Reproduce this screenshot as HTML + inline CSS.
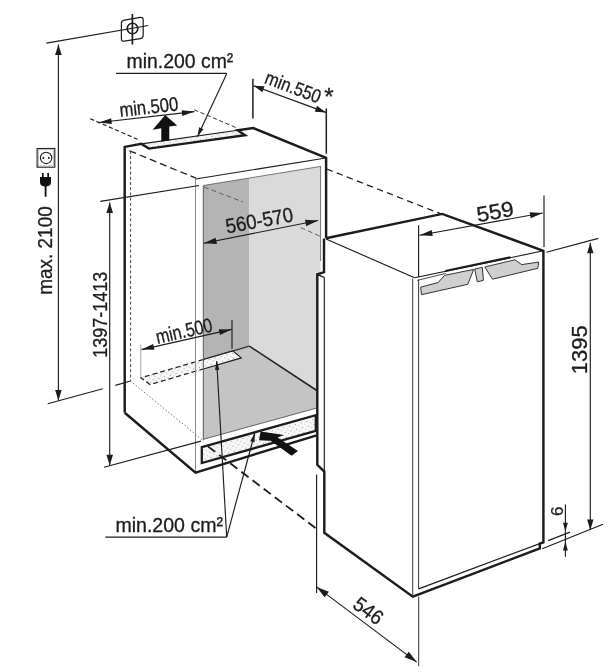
<!DOCTYPE html>
<html><head><meta charset="utf-8"><title>Installation dimensions</title>
<style>
html,body{margin:0;padding:0;background:#fff;}
body{width:614px;height:672px;overflow:hidden;font-family:"Liberation Sans",sans-serif;}
svg{display:block;will-change:transform;filter:grayscale(1);font-family:"Liberation Sans",sans-serif;}
</style></head><body>
<svg width="614" height="672" viewBox="0 0 614 672">
<defs>
<pattern id="dots" width="6" height="5" patternUnits="userSpaceOnUse" patternTransform="rotate(-15)">
<rect width="6" height="5" fill="#f7f7f7"/>
<circle cx="1.5" cy="1.5" r="0.6" fill="#8a8a8a"/>
<circle cx="4.5" cy="3.8" r="0.55" fill="#a8a8a8"/>
</pattern>
</defs>
<rect width="614" height="672" fill="#fff"/>
<polygon points="203.40,185.50 249.20,178.00 249.20,346.50 203.40,360.00" fill="#b4b4b4" stroke="none" stroke-width="0"/>
<polygon points="249.20,178.00 320.60,166.40 320.60,272.80 316.80,274.40 316.80,391.00 249.20,346.50" fill="#dadada" stroke="none" stroke-width="0"/>
<polygon points="203.40,360.00 249.40,346.20 316.80,390.50 316.80,408.00 203.40,439.30" fill="#c4c4c4" stroke="none" stroke-width="0"/>
<line x1="249.4" y1="346.2" x2="316.8" y2="390.5" stroke="#222" stroke-width="1.5" stroke-linecap="butt"/>
<line x1="203.4" y1="359.7" x2="249.4" y2="346.2" stroke="#333" stroke-width="1.2" stroke-linecap="butt"/>
<line x1="203.4" y1="439.3" x2="316.8" y2="408.0" stroke="#444" stroke-width="0.8" stroke-linecap="butt"/>
<polygon points="140.80,377.80 232.80,350.90 241.30,357.90 150.00,384.60" fill="url(#dots)" stroke="none" stroke-width="0"/>
<path d="M203.4,359.5 L232.8,350.9 L241.3,357.9 L203.4,369.0" stroke="#1c1c1c" stroke-width="1.15" fill="none" stroke-linejoin="miter"/>
<path d="M203.4,359.5 L140.8,377.8 L150.0,384.6 L203.4,369.0" stroke="#1c1c1c" stroke-width="1.2" fill="none" stroke-linejoin="miter" stroke-dasharray="5 3"/>
<line x1="204" y1="187" x2="243" y2="202" stroke="#555" stroke-width="0.9" stroke-linecap="butt" stroke-dasharray="5 3"/>
<line x1="300.5" y1="227.5" x2="320.6" y2="236.5" stroke="#555" stroke-width="0.9" stroke-linecap="butt" stroke-dasharray="5 3"/>
<polygon points="141.40,143.90 237.80,130.20 245.00,135.20 148.90,148.60" fill="url(#dots)" stroke="none" stroke-width="0"/>
<line x1="141.4" y1="143.9" x2="237.8" y2="130.2" stroke="#1c1c1c" stroke-width="1.15" stroke-linecap="butt"/>
<line x1="195.5" y1="179.0" x2="195.5" y2="472.7" stroke="#8a8a8a" stroke-width="1.0" stroke-linecap="butt"/>
<line x1="195.7" y1="179.0" x2="326" y2="158.0" stroke="#1c1c1c" stroke-width="1.15" stroke-linecap="butt"/>
<line x1="203.4" y1="185.5" x2="320.9" y2="166.4" stroke="#555" stroke-width="0.8" stroke-linecap="butt"/>
<line x1="203.3" y1="185.5" x2="203.3" y2="440" stroke="#555" stroke-width="1.0" stroke-linecap="butt"/>
<line x1="320.6" y1="166.4" x2="320.6" y2="261" stroke="#555" stroke-width="0.8" stroke-linecap="butt"/>
<line x1="129.5" y1="150.8" x2="196" y2="178.2" stroke="#1c1c1c" stroke-width="1.3" stroke-linecap="butt" stroke-dasharray="7 4"/>
<line x1="130.6" y1="150.8" x2="130.6" y2="381" stroke="#444" stroke-width="1.0" stroke-linecap="butt" stroke-dasharray="3 2.2"/>
<line x1="130.4" y1="381" x2="204" y2="441.3" stroke="#555" stroke-width="0.8" stroke-linecap="butt" stroke-dasharray="1.5 2"/>
<path d="M124.7,412.5 L124.7,146.9 L141.4,143.9 L148.9,148.6 L245.0,135.2 L237.8,130.2 L253.1,128.0 L326.1,157.9 L326.1,238.2" stroke="#1c1c1c" stroke-width="2.45" fill="none" stroke-linejoin="miter"/>
<path d="M124.7,412.8 L195.5,472.6 L316.6,435.3" stroke="#1c1c1c" stroke-width="2.45" fill="none" stroke-linejoin="miter"/>
<polygon points="201.80,447.20 315.80,415.20 315.80,430.90 201.80,463.00" fill="url(#dots)" stroke="#1c1c1c" stroke-width="2.3"/>
<polygon points="260.60,431.50 284.00,435.00 277.60,437.60 298.00,451.00 291.60,455.80 270.60,440.80 259.00,440.20" fill="#111" stroke="none" stroke-width="0"/>
<line x1="207.9" y1="446.4" x2="316.8" y2="529" stroke="#1c1c1c" stroke-width="1.8" stroke-linecap="butt" stroke-dasharray="9 5"/>
<line x1="326.7" y1="169" x2="441" y2="213.9" stroke="#1c1c1c" stroke-width="1.25" stroke-linecap="butt" stroke-dasharray="6.4 4.4"/>
<path d="M326,238.2 L442.2,213.9 L543.4,250.8 L543.4,542.4 L539.8,543.6 L539.8,548.4 L412.8,596.7 L324.3,532.8 L324.3,471.5 L317.3,464.8 L317.3,274.4 L324,272.2 L324,238.4" stroke="#1c1c1c" stroke-width="2.45" fill="none" stroke-linejoin="miter"/>
<line x1="326" y1="239" x2="414.6" y2="277.8" stroke="#1c1c1c" stroke-width="1.15" stroke-linecap="butt"/>
<line x1="414.6" y1="277.8" x2="543.4" y2="250.8" stroke="#1c1c1c" stroke-width="1.15" stroke-linecap="butt"/>
<line x1="412.7" y1="278.5" x2="412.7" y2="596.5" stroke="#3a3a3a" stroke-width="1.0" stroke-linecap="butt"/>
<line x1="418.6" y1="279.5" x2="418.6" y2="589" stroke="#3a3a3a" stroke-width="1.0" stroke-linecap="butt"/>
<line x1="418.6" y1="588.8" x2="543.2" y2="542.3" stroke="#1c1c1c" stroke-width="1.25" stroke-linecap="butt"/>
<line x1="324.3" y1="277.4" x2="324.3" y2="471.5" stroke="#1c1c1c" stroke-width="1.15" stroke-linecap="butt"/>
<line x1="316.8" y1="274.4" x2="324.3" y2="277.4" stroke="#1c1c1c" stroke-width="1.15" stroke-linecap="butt"/>
<line x1="316.6" y1="474.4" x2="316.6" y2="592.9" stroke="#1c1c1c" stroke-width="1.15" stroke-linecap="butt"/>
<polygon points="420.60,287.20 438.20,282.50 444.50,275.40 473.70,269.40 467.80,284.30 421.50,294.70" fill="#cfcfcf" stroke="#333" stroke-width="1.0"/>
<polygon points="474.70,269.00 482.30,267.40 483.40,280.30 477.30,281.90" fill="#cfcfcf" stroke="#333" stroke-width="1.0"/>
<polygon points="484.80,267.00 514.90,259.80 521.70,264.60 538.80,262.10 537.70,268.30 492.50,279.20" fill="#cfcfcf" stroke="#333" stroke-width="1.0"/>
<line x1="445.3" y1="271.0" x2="510.3" y2="257.4" stroke="#1c1c1c" stroke-width="2.2" stroke-linecap="butt"/>
<line x1="417.1" y1="280.4" x2="445.8" y2="273.4" stroke="#1c1c1c" stroke-width="0.8" stroke-linecap="butt"/>
<line x1="58.4" y1="44.6" x2="58.4" y2="400.5" stroke="#1c1c1c" stroke-width="1.15" stroke-linecap="butt"/>
<polygon points="58.40,44.60 61.70,55.10 55.10,55.10" fill="#1c1c1c" stroke="none" stroke-width="0"/>
<polygon points="58.40,400.50 55.10,390.00 61.70,390.00" fill="#1c1c1c" stroke="none" stroke-width="0"/>
<line x1="46.4" y1="43.1" x2="148.3" y2="25.5" stroke="#1c1c1c" stroke-width="1.15" stroke-linecap="butt"/>
<line x1="47.7" y1="403.7" x2="102.8" y2="388.7" stroke="#1c1c1c" stroke-width="1.15" stroke-linecap="butt"/>
<line x1="115.4" y1="385.4" x2="130.4" y2="381" stroke="#1c1c1c" stroke-width="1.15" stroke-linecap="butt"/>
<text transform="translate(51.6,294.7) rotate(-90)" font-size="20" text-anchor="start" fill="#1c1c1c" stroke="#1c1c1c" stroke-width="0.3" textLength="88.4" lengthAdjust="spacingAndGlyphs">max. 2100</text>
<rect x="37.1" y="148.5" width="17.7" height="18.7" fill="#fff" stroke="#1c1c1c" stroke-width="1.1"/>
<rect x="38.4" y="149.8" width="15.1" height="16.1" fill="none" stroke="#999" stroke-width="0.6"/>
<circle cx="46.1" cy="157.9" r="5.7" fill="none" stroke="#1c1c1c" stroke-width="1.1"/>
<circle cx="43.4" cy="157.9" r="1" fill="#1c1c1c"/><circle cx="48.8" cy="157.9" r="1" fill="#1c1c1c"/>
<path d="M42.0,173 h1.7 v4 h3.6 v-4 h1.7 v4 h2 v5 q0,4.4 -4.5,4.4 v10.3 h-1.8 v-10.3 q-4.7,0 -4.7,-4.4 v-5 h2 z" fill="#111"/>
<path d="M124.4,20.1 L140.2,17.4 Q143.2,16.9 143.2,19.9 L143.2,35.2 Q143.2,38.2 140.2,38.7 L124.4,41.2 Q121.4,41.7 121.4,38.7 L121.4,23.3 Q121.4,20.6 124.4,20.1 Z" fill="none" stroke="#1c1c1c" stroke-width="1.2"/>
<circle cx="132.5" cy="28.5" r="5.3" fill="none" stroke="#1c1c1c" stroke-width="1.6"/>
<line x1="132.4" y1="13.9" x2="132.4" y2="44.6" stroke="#1c1c1c" stroke-width="1.7" stroke-linecap="butt"/>
<line x1="109.7" y1="202.5" x2="109.7" y2="465.2" stroke="#1c1c1c" stroke-width="1.15" stroke-linecap="butt"/>
<polygon points="109.70,202.50 113.00,213.00 106.40,213.00" fill="#1c1c1c" stroke="none" stroke-width="0"/>
<polygon points="109.70,465.20 106.40,454.70 113.00,454.70" fill="#1c1c1c" stroke="none" stroke-width="0"/>
<line x1="100.3" y1="201.4" x2="199" y2="185.5" stroke="#1c1c1c" stroke-width="1.15" stroke-linecap="butt"/>
<line x1="104" y1="467.2" x2="201" y2="441.1" stroke="#1c1c1c" stroke-width="1.15" stroke-linecap="butt"/>
<text transform="translate(106.6,357.8) rotate(-90)" font-size="20.5" text-anchor="start" fill="#1c1c1c" stroke="#1c1c1c" stroke-width="0.3" textLength="86" lengthAdjust="spacingAndGlyphs">1397-1413</text>
<text transform="translate(126.5,67.6) rotate(0)" font-size="20" text-anchor="start" fill="#1c1c1c" stroke="#1c1c1c" stroke-width="0.3" textLength="106.8" lengthAdjust="spacingAndGlyphs">min.200 cm²</text>
<line x1="116" y1="73.4" x2="226.8" y2="73.4" stroke="#1c1c1c" stroke-width="1.15" stroke-linecap="butt"/>
<line x1="226.8" y1="73.4" x2="197.5" y2="136.5" stroke="#1c1c1c" stroke-width="1.15" stroke-linecap="butt"/>
<polygon points="197.50,136.50 199.11,127.33 203.47,129.35" fill="#1c1c1c" stroke="none" stroke-width="0"/>
<line x1="99.1" y1="122.5" x2="194.4" y2="111.6" stroke="#1c1c1c" stroke-width="1.15" stroke-linecap="butt"/>
<polygon points="99.10,122.50 111.19,118.20 111.85,123.96" fill="#1c1c1c" stroke="none" stroke-width="0"/>
<polygon points="194.40,111.60 182.31,115.90 181.65,110.14" fill="#1c1c1c" stroke="none" stroke-width="0"/>
<text transform="translate(120.2,117) rotate(-6.4)" font-size="20" text-anchor="start" fill="#1c1c1c" stroke="#1c1c1c" stroke-width="0.3" textLength="59" lengthAdjust="spacingAndGlyphs">min.500</text>
<line x1="90.2" y1="118.7" x2="137.5" y2="139.3" stroke="#222" stroke-width="1.2" stroke-linecap="butt" stroke-dasharray="4.2 2.6"/>
<line x1="194.2" y1="109.8" x2="237" y2="128" stroke="#333" stroke-width="1.0" stroke-linecap="butt" stroke-dasharray="4.2 2.6"/>
<polygon points="165.20,115.00 177.20,125.60 169.30,126.50 169.30,140.50 161.30,141.60 161.30,128.30 152.70,129.80" fill="#111" stroke="none" stroke-width="0"/>
<line x1="203.7" y1="243.3" x2="318.1" y2="220.5" stroke="#1c1c1c" stroke-width="1.15" stroke-linecap="butt"/>
<polygon points="203.70,243.30 215.63,237.66 216.88,243.94" fill="#1c1c1c" stroke="none" stroke-width="0"/>
<polygon points="318.10,220.50 306.17,226.14 304.92,219.86" fill="#1c1c1c" stroke="none" stroke-width="0"/>
<text transform="translate(227.0,233.6) rotate(-10.5)" font-size="20.5" text-anchor="start" fill="#1c1c1c" stroke="#1c1c1c" stroke-width="0.3" textLength="68.4" lengthAdjust="spacingAndGlyphs">560-570</text>
<line x1="140.8" y1="344.8" x2="140.8" y2="378.6" stroke="#999" stroke-width="0.9" stroke-linecap="butt"/>
<line x1="232" y1="320" x2="232" y2="348.7" stroke="#1c1c1c" stroke-width="1.15" stroke-linecap="butt"/>
<line x1="141.6" y1="349.6" x2="231.5" y2="329.4" stroke="#1c1c1c" stroke-width="1.15" stroke-linecap="butt"/>
<polygon points="141.60,349.60 153.16,344.03 154.43,349.69" fill="#1c1c1c" stroke="none" stroke-width="0"/>
<polygon points="231.50,329.40 219.94,334.97 218.67,329.31" fill="#1c1c1c" stroke="none" stroke-width="0"/>
<text transform="translate(157.4,344.0) rotate(-12.8)" font-size="20" text-anchor="start" fill="#1c1c1c" stroke="#1c1c1c" stroke-width="0.3" textLength="57.5" lengthAdjust="spacingAndGlyphs">min.500</text>
<text transform="translate(115.4,532) rotate(0)" font-size="20" text-anchor="start" fill="#1c1c1c" stroke="#1c1c1c" stroke-width="0.3" textLength="107.6" lengthAdjust="spacingAndGlyphs">min.200 cm²</text>
<line x1="105.3" y1="537.1" x2="226.7" y2="537.1" stroke="#1c1c1c" stroke-width="1.15" stroke-linecap="butt"/>
<line x1="226.7" y1="537.1" x2="216.7" y2="361" stroke="#1c1c1c" stroke-width="1.15" stroke-linecap="butt"/>
<polygon points="216.70,361.00 219.41,369.86 215.01,370.11" fill="#1c1c1c" stroke="none" stroke-width="0"/>
<line x1="226.7" y1="537.1" x2="254.8" y2="433" stroke="#1c1c1c" stroke-width="1.15" stroke-linecap="butt"/>
<polygon points="254.80,433.00 254.58,442.26 250.33,441.12" fill="#1c1c1c" stroke="none" stroke-width="0"/>
<line x1="252.9" y1="78.7" x2="252.9" y2="118.6" stroke="#1c1c1c" stroke-width="1.5" stroke-linecap="butt"/>
<line x1="326.3" y1="108.5" x2="326.3" y2="153.7" stroke="#1c1c1c" stroke-width="1.5" stroke-linecap="butt"/>
<line x1="253.5" y1="85.7" x2="325.9" y2="112.4" stroke="#1c1c1c" stroke-width="1.2" stroke-linecap="butt"/>
<polygon points="253.50,85.70 264.55,86.37 262.34,92.37" fill="#1c1c1c" stroke="none" stroke-width="0"/>
<polygon points="325.90,112.40 314.85,111.73 317.06,105.73" fill="#1c1c1c" stroke="none" stroke-width="0"/>
<text transform="translate(263.4,82.8) rotate(20.7)" font-size="19" text-anchor="start" fill="#1c1c1c" stroke="#1c1c1c" stroke-width="0.3" textLength="58.5" lengthAdjust="spacingAndGlyphs">min.550</text>
<text transform="translate(324.2,104.5) rotate(0)" font-size="24" text-anchor="start" fill="#1c1c1c" stroke="#1c1c1c" stroke-width="0.3">*</text>
<line x1="418.6" y1="225.2" x2="418.6" y2="277" stroke="#1c1c1c" stroke-width="1.15" stroke-linecap="butt"/>
<line x1="544" y1="195.6" x2="544" y2="247" stroke="#1c1c1c" stroke-width="1.15" stroke-linecap="butt"/>
<line x1="419.6" y1="235.2" x2="542.8" y2="213" stroke="#1c1c1c" stroke-width="1.15" stroke-linecap="butt"/>
<polygon points="419.60,235.20 431.65,229.88 432.75,235.98" fill="#1c1c1c" stroke="none" stroke-width="0"/>
<polygon points="542.80,213.00 530.75,218.32 529.65,212.22" fill="#1c1c1c" stroke="none" stroke-width="0"/>
<text transform="translate(478.0,222.2) rotate(-10)" font-size="21.5" text-anchor="start" fill="#1c1c1c" stroke="#1c1c1c" stroke-width="0.3" textLength="37.5" lengthAdjust="spacingAndGlyphs">559</text>
<line x1="590.3" y1="242.7" x2="590.3" y2="529.9" stroke="#1c1c1c" stroke-width="1.15" stroke-linecap="butt"/>
<polygon points="590.30,242.70 593.50,253.20 587.10,253.20" fill="#1c1c1c" stroke="none" stroke-width="0"/>
<polygon points="590.30,529.90 587.10,519.40 593.50,519.40" fill="#1c1c1c" stroke="none" stroke-width="0"/>
<line x1="546.4" y1="252.3" x2="598.3" y2="238.4" stroke="#1c1c1c" stroke-width="1.15" stroke-linecap="butt"/>
<line x1="542.2" y1="548.8" x2="603" y2="524.2" stroke="#1c1c1c" stroke-width="1.15" stroke-linecap="butt"/>
<text transform="translate(586.8,374.2) rotate(-90)" font-size="22" text-anchor="start" fill="#1c1c1c" stroke="#1c1c1c" stroke-width="0.3" textLength="48.8" lengthAdjust="spacingAndGlyphs">1395</text>
<line x1="565.4" y1="504.6" x2="565.4" y2="556.7" stroke="#1c1c1c" stroke-width="1.15" stroke-linecap="butt"/>
<polygon points="565.40,531.80 563.00,522.80 567.80,522.80" fill="#1c1c1c" stroke="none" stroke-width="0"/>
<polygon points="565.40,541.40 567.80,550.40 563.00,550.40" fill="#1c1c1c" stroke="none" stroke-width="0"/>
<line x1="548.2" y1="540.6" x2="569.9" y2="532.1" stroke="#1c1c1c" stroke-width="1.15" stroke-linecap="butt"/>
<text transform="translate(562.5,516) rotate(-90)" font-size="17" text-anchor="start" fill="#1c1c1c" stroke="#1c1c1c" stroke-width="0.3">6</text>
<line x1="418.7" y1="596.5" x2="418.7" y2="666.3" stroke="#1c1c1c" stroke-width="0.9" stroke-linecap="butt"/>
<line x1="316.6" y1="586.9" x2="416.8" y2="662.1" stroke="#1c1c1c" stroke-width="1.15" stroke-linecap="butt"/>
<polygon points="316.60,586.90 328.86,591.72 324.66,597.32" fill="#1c1c1c" stroke="none" stroke-width="0"/>
<polygon points="416.80,662.10 404.54,657.28 408.74,651.68" fill="#1c1c1c" stroke="none" stroke-width="0"/>
<text transform="translate(351.6,607) rotate(36.8)" font-size="20.5" text-anchor="start" fill="#1c1c1c" stroke="#1c1c1c" stroke-width="0.3" textLength="31.5" lengthAdjust="spacingAndGlyphs">546</text>
</svg>
</body></html>
